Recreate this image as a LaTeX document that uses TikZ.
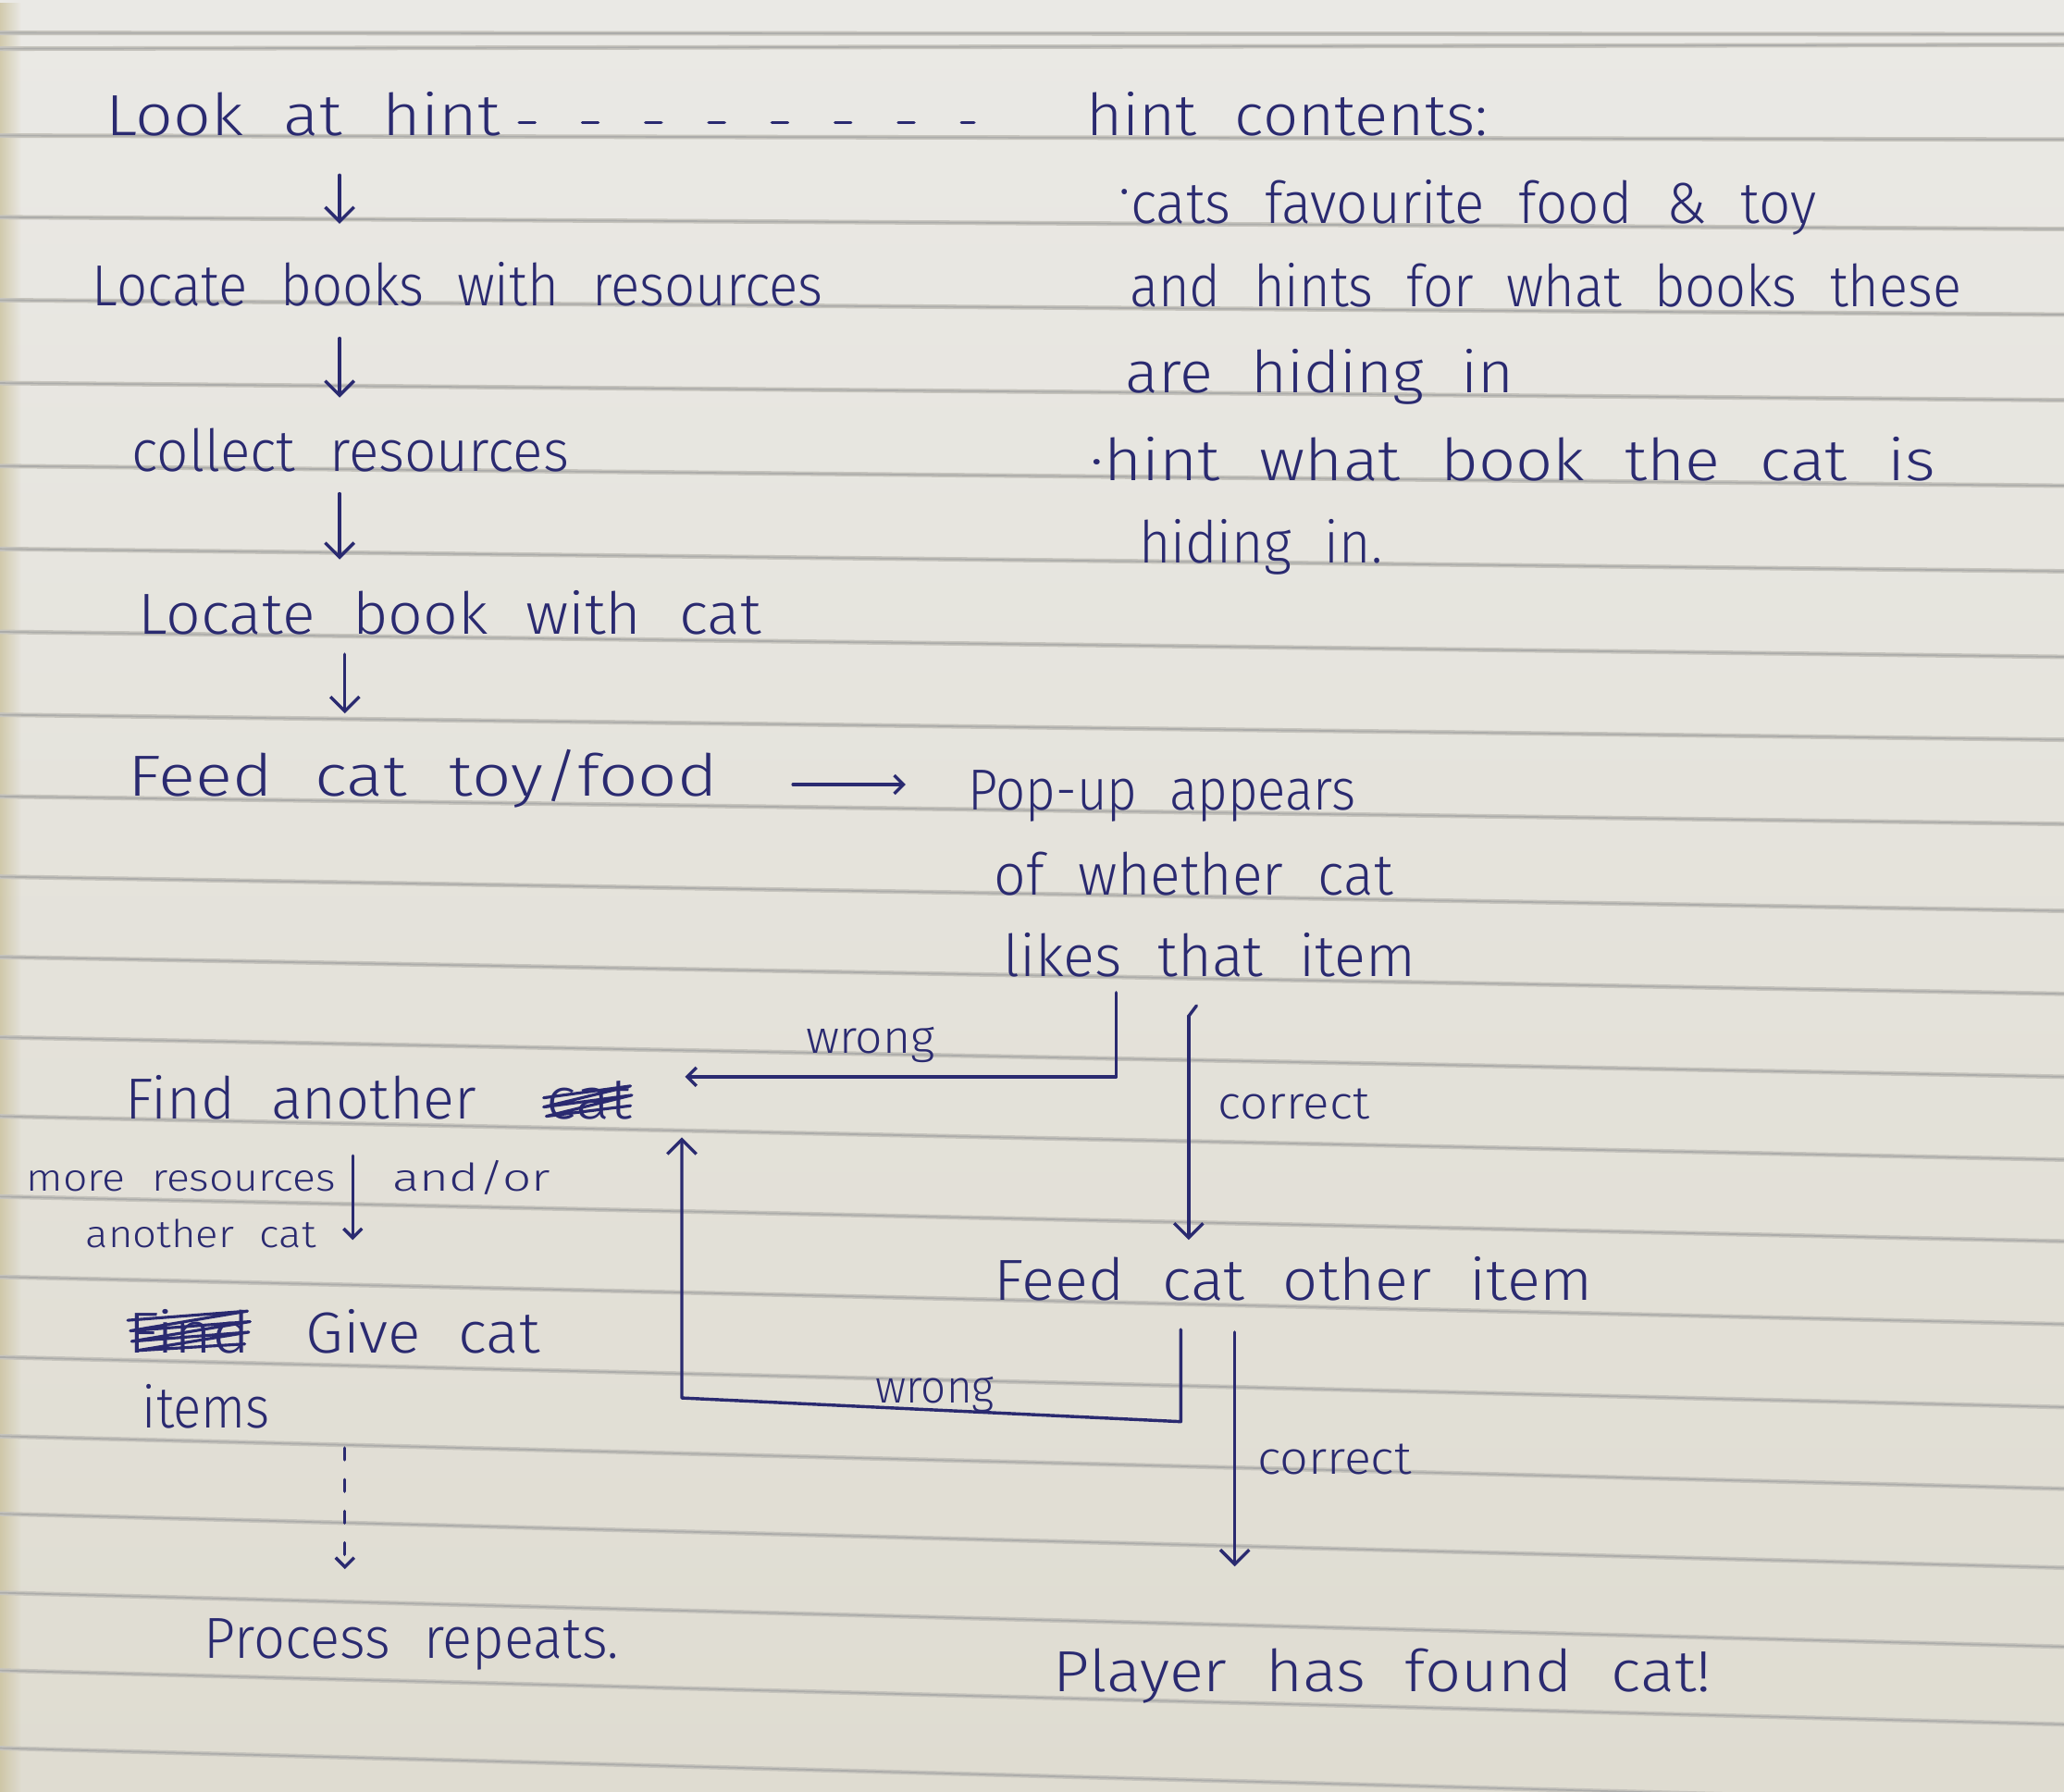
\documentclass[tikz,border=0pt]{standalone}
\usepackage{fontspec}
\usepackage{graphicx}
\setmainfont{Fira Sans Light}[WordSpace=2.2]
\usetikzlibrary{arrows.meta, fadings}

\definecolor{paperA}{RGB}{234,233,229}
\definecolor{paperB}{RGB}{223,220,209}
\definecolor{paperEdge}{RGB}{200,190,150}
\definecolor{ink}{RGB}{42,42,112}
\definecolor{ruling}{RGB}{172,172,170}

% stretch a handwritten line to a given width, keeping its height
\newcommand\hw[2]{\resizebox{#1pt}{\height}{#2}}

\tikzset{
  txt/.style={inner sep=0pt, anchor=base west, text=ink, font=\fontsize{44}{52}\selectfont},
  small/.style={txt, font=\fontsize{29}{34}\selectfont},
  lab/.style={txt, font=\fontsize{35}{42}\selectfont},
  pen/.style={draw=ink, line width=2.4pt, line cap=round, line join=round},
  scribble/.style={pen, line width=2.2pt},
  arr/.style={pen, -{Straight Barb[length=11pt, width=22pt, line width=2.4pt]}},
  arrs/.style={pen, -{Straight Barb[length=7pt, width=14pt, line width=2.4pt]}},
  dotted pen/.style={dash pattern=on 9pt off 15pt},
  hintdash/.style={dash pattern=on 12pt off 36pt},
}

\begin{document}
\begin{tikzpicture}[x=1pt, y=-1pt]
\useasboundingbox (0,0) rectangle (1568,1361);

% paper
\shade[top color=paperA, bottom color=paperB] (0,0) rectangle (1568,1361);
\fill[paperEdge, opacity=0.7, path fading=east] (0,0) rectangle (16,1361);

% ruled lines (the sheet sags a little towards the lower right)
\foreach \l/\r in {25/26, 37/34, 103/106, 165/174, 228/239, 291/304, 354/369,
                   417/434, 480/499, 543/562, 605/626, 666/692, 727/755, 788/818,
                   848/881, 909/943, 970/1006, 1031/1069, 1091/1131, 1150/1191,
                   1210/1251, 1269/1310, 1328/1370}{
  \draw[ruling!50!paperB, line width=3.4pt] (0,\l) -- (1568,\r);
  \draw[ruling, line width=1.2pt] (0,\l) -- (1568,\r);
}

% ---- hint notes (right column)
\node[txt] (look)  at (80,103)  {\hw{300}{Look at hint}};
\node[txt] (hintc) at (825,103) {\hw{305}{hint contents:}};
\node[txt] (h1)    at (850,170) {\hw{530}{\raisebox{10pt}{·}cats favourite food \& toy}};
\node[txt] (h2)    at (858,233) {\hw{632}{and hints for what books these}};
\node[txt] (h3)    at (855,298) {\hw{295}{are hiding in}};
\node[txt] (h4)    at (828,365) {\hw{642}{·hint what book the cat is}};
\node[txt] (h5)    at (865,428) {\hw{185}{hiding in.}};

% ---- main steps (left column)
\node[txt] (locb)  at (70,232)  {\hw{555}{Locate books with resources}};
\node[txt] (coll)  at (100,358) {\hw{332}{collect resources}};
\node[txt] (locc)  at (105,482) {\hw{473}{Locate book with cat}};
\node[txt] (feed)  at (97,605)  {\hw{448}{Feed cat toy/food}};

\node[txt] (popup)   at (735,615) {\hw{295}{Pop-up appears}};
\node[txt] (whether) at (755,680) {\hw{303}{of whether cat}};
\node[txt] (likes)   at (762,742) {\hw{313}{likes that item}};

\node[txt] (find)  at (95,850)  {\hw{267}{Find another}};
\node[txt] (findx) at (415,850) {\hw{65}{cat}};
\node[small] (more)  at (20,905)  {\hw{235}{more resources}};
\node[small] (andor) at (298,905) {\hw{120}{and/or}};
\node[small] (anoth) at (65,948)  {\hw{175}{another cat}};

\node[txt] (feedo) at (755,988)  {\hw{455}{Feed cat other item}};
\node[txt] (findy) at (97,1028)  {\hw{93}{Find}};
\node[txt] (give)  at (232,1028) {\hw{178}{Give cat}};
\node[txt] (items) at (108,1085) {\hw{97}{items}};
\node[txt] (proc)  at (155,1260) {\hw{315}{Process repeats.}};
\node[txt] (player) at (800,1285) {\hw{500}{Player has found cat!}};

% ---- branch labels
\node[lab] (wr1) at (612,800)  {\hw{98}{wrong}};
\node[lab] (co1) at (925,850)  {\hw{115}{correct}};
\node[lab] (wr2) at (665,1066) {\hw{90}{wrong}};
\node[lab] (co2) at (955,1120) {\hw{117}{correct}};

% crossed-out words
\draw[scribble] (413,834) -- (479,825) -- (413,841) -- (480,832) -- (415,848) -- (479,840);
\draw[scribble] (97,1003) -- (188,996) -- (99,1011) -- (190,1004) -- (100,1019)
  -- (189,1012) -- (104,1026) -- (186,1021);

% ---- columns for the connectors
\coordinate (colA) at (258,0);
\coordinate (colB) at (262,0);
\coordinate (colG) at (268,0);
\coordinate (hy)   at (0,93);
\coordinate (ry)   at (0,596);
\coordinate (c1)   at (903,0);
\coordinate (c2)   at (938,0);
\coordinate (w1)   at (848,818);
\coordinate (w2r)  at (897,1080);
\coordinate (w2c)  at (518,1062);

% ---- connectors
\draw[pen, hintdash, shorten <=14pt, shorten >=85pt] (look.east |- hy) -- (hintc.west |- hy);

\draw[arr, shorten <=30pt, shorten >=62pt] (look.base -| colA) -- (locb.base -| colA);
\draw[arr, shorten <=25pt, shorten >=56pt] (locb.base -| colA) -- (coll.base -| colA);
\draw[arr, shorten <=17pt, shorten >=57pt] (coll.base -| colA) -- (locc.base -| colA);
\draw[arr, shorten <=15pt, shorten >=63pt] (locc.base -| colB) -- (feed.base -| colB);

\draw[arrs, shorten <=57pt, shorten >=47pt] (feed.east |- ry) -- (popup.west |- ry);

\draw[arrs, shorten <=12pt, shorten >=40pt] (likes.base -| w1) -- (w1) -- (w1 -| findx.east);
\draw[arr, shorten <=30pt, shorten >=46pt] (likes.base -| c1) -- (feedo.base -| c1);
\draw[pen] (903,772) -- (909,764);

\draw[arr, shorten <=22pt, shorten >=14pt] (feedo.base -| w2r) -- (w2r) -- (w2c) -- (w2c |- findx.base);
\draw[arr, shorten <=24pt, shorten >=95pt] (feedo.base -| c2) -- (player.base -| c2);

\draw[arrs, shorten <=28pt, shorten >=86pt] (find.base -| colG) -- (give.base -| colG);
\draw[arrs, dotted pen, shorten <=15pt, shorten >=68pt] (items.base -| colB) -- (proc.base -| colB);

\end{tikzpicture}
\end{document}
